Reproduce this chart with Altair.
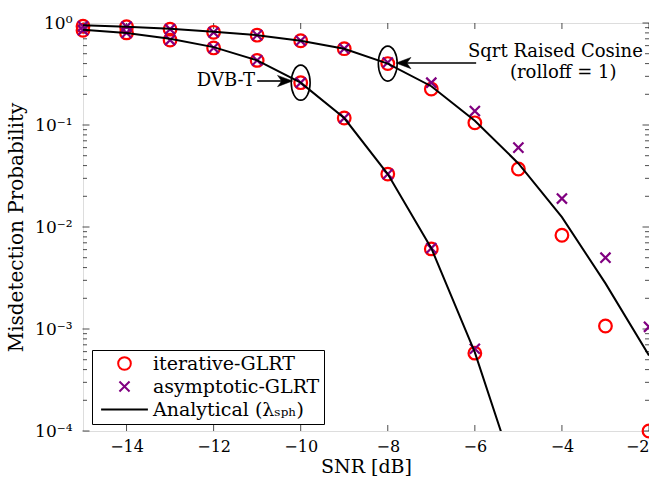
import altair as alt
import pandas as pd

# ---------------- data ----------------
SNR = [-15, -14, -13, -12, -11, -10, -9, -8, -7, -6, -5, -4, -3, -2]

# DVB-T curve
DVB_LINE_SNR = [-15, -14, -13, -12, -11, -10, -9, -8, -7, -6, -5]
DVB_ANALYTICAL = [0.86, 0.80, 0.70, 0.58, 0.43, 0.26, 0.117, 0.033, 0.0062, 0.00059, 0.00003]
DVB_MARK_SNR = [-15, -14, -13, -12, -11, -10, -9, -8, -7, -6]
DVB_ITERATIVE = [0.85, 0.80, 0.68, 0.57, 0.43, 0.26, 0.117, 0.033, 0.0061, 0.00058]
DVB_ASYMPTOTIC = [0.85, 0.80, 0.68, 0.57, 0.43, 0.26, 0.117, 0.033, 0.0062, 0.00064]

# Sqrt raised cosine curve
SRC_ANALYTICAL = [0.95, 0.92, 0.88, 0.82, 0.76, 0.67, 0.56, 0.40, 0.24, 0.11, 0.042, 0.0125, 0.0028, 0.00055]
SRC_ITERATIVE = [0.93, 0.92, 0.87, 0.81, 0.76, 0.67, 0.56, 0.40, 0.225, 0.105, 0.037, 0.0083, 0.00107, 0.0001]
SRC_ASYMPTOTIC = [0.93, 0.92, 0.87, 0.81, 0.76, 0.67, 0.56, 0.41, 0.26, 0.137, 0.060, 0.019, 0.0050, 0.00105]

SERIES = ["iterative-GLRT", "asymptotic-GLRT", "Analytical (λₛₚₕ)"]
COLORS = ["#ff0000", "#800080", "#000000"]

X_TICKS = [-14, -12, -10, -8, -6, -4, -2]
Y_TICKS = [1e-4, 1e-3, 1e-2, 1e-1, 1.0]
Y_MINOR = [k * 10.0 ** e for e in (-4, -3, -2, -1) for k in range(2, 10)]

# annotations (data coordinates)
ELLIPSES_X = [-10, -8]
ELLIPSES_Y = [0.26, 0.40]

# ---------------- tables ----------------
lines = pd.concat([
    pd.DataFrame({"snr": DVB_LINE_SNR, "p": DVB_ANALYTICAL, "curve": "DVB-T", "series": SERIES[2]}),
    pd.DataFrame({"snr": SNR, "p": SRC_ANALYTICAL, "curve": "SRC", "series": SERIES[2]}),
])
points = pd.concat([
    pd.DataFrame({"snr": DVB_MARK_SNR, "p": DVB_ITERATIVE, "series": SERIES[0]}),
    pd.DataFrame({"snr": SNR, "p": SRC_ITERATIVE, "series": SERIES[0]}),
    pd.DataFrame({"snr": DVB_MARK_SNR, "p": DVB_ASYMPTOTIC, "series": SERIES[1]}),
    pd.DataFrame({"snr": SNR, "p": SRC_ASYMPTOTIC, "series": SERIES[1]}),
])

W, H = 566, 408
FONT = "DejaVu Serif"

xs = alt.Scale(domain=[-15, -2], nice=False, zero=False)
ys = alt.Scale(type="log", domain=[1e-4, 1], nice=False)

X_PATH = "M-0.8,-0.8L0.8,0.8M-0.8,0.8L0.8,-0.8"
LINE_PATH = "M-3.7,0L3.7,0"
stroke_scale = alt.Scale(domain=SERIES, range=COLORS)
shape_scale = alt.Scale(domain=SERIES, range=["circle", X_PATH, LINE_PATH])

legend = alt.Legend(
    title=None, orient="none", legendX=9, legendY=327,
    strokeColor="black", fillColor="white", padding=4, cornerRadius=0,
    labelFont=FONT, labelFontSize=19, labelColor="black", labelOffset=19, labelLimit=400,
    symbolSize=160, symbolStrokeWidth=2, symbolOffset=19, rowPadding=3,
)

xaxis = alt.Axis(values=X_TICKS, ticks=False, domain=False, grid=False, labelFont=FONT,
                 labelFontSize=16, labelColor="black", labelPadding=7, title="SNR [dB]",
                 titleFont=FONT, titleFontSize=19, titleFontWeight="normal", titleColor="black",
                 titlePadding=3)
ylabel = ("datum.value > 0.5 ? '10⁰' : datum.value > 0.05 ? '10⁻¹' : datum.value > 0.005 ? '10⁻²'"
          " : datum.value > 0.0005 ? '10⁻³' : '10⁻⁴'")
yaxis = alt.Axis(values=Y_TICKS, ticks=False, domain=False, grid=False, labelFont=FONT,
                 labelFontSize=17, labelColor="black", labelPadding=11, labelExpr=ylabel,
                 title="Misdetection Probability", titleFont=FONT, titleFontSize=20,
                 titleFontWeight="normal", titleColor="black", titlePadding=8)

pts = alt.Chart(points).mark_point(filled=False, strokeWidth=2.2, size=160, opacity=1).encode(
    x=alt.X("snr:Q", scale=xs, axis=xaxis),
    y=alt.Y("p:Q", scale=ys, axis=yaxis),
    stroke=alt.Stroke("series:N", scale=stroke_scale, legend=legend, sort=SERIES),
    shape=alt.Shape("series:N", scale=shape_scale, legend=legend, sort=SERIES),
)

lns = alt.Chart(lines).mark_line(strokeWidth=2, clip=True).encode(
    x=alt.X("snr:Q", scale=xs),
    y=alt.Y("p:Q", scale=ys),
    stroke=alt.Stroke("series:N", scale=stroke_scale, legend=legend, sort=SERIES),
    detail="curve:N",
)

# ellipses around highlighted points
ell_df = pd.DataFrame({"snr": ELLIPSES_X, "p": ELLIPSES_Y})
ELL_PATH = "M0,-1A0.54,1,0,1,1,0,1A0.54,1,0,1,1,0,-1Z"
ells = alt.Chart(ell_df).mark_point(shape=ELL_PATH, size=1225, filled=False, stroke="black",
                                     strokeWidth=1.6, opacity=1).encode(
    x=alt.X("snr:Q", scale=xs), y=alt.Y("p:Q", scale=ys))

# arrows
arrow_df = pd.DataFrame({"x1": [-11.0, -7.7], "x2": [-10.35, -5.97], "p": [0.27, 0.405]})
shafts = alt.Chart(arrow_df).mark_rule(stroke="black", strokeWidth=1.6).encode(
    x=alt.X("x1:Q", scale=xs), x2="x2:Q", y=alt.Y("p:Q", scale=ys))
head_r = alt.Chart(pd.DataFrame({"snr": [-10.36], "p": [0.27]})).mark_point(
    shape="M1,0L-1,-0.75L-0.45,0L-1,0.75Z", size=225, filled=True, fill="black", stroke="black",
    strokeWidth=0.5, opacity=1).encode(x=alt.X("snr:Q", scale=xs), y=alt.Y("p:Q", scale=ys))
head_l = alt.Chart(pd.DataFrame({"snr": [-7.64], "p": [0.405]})).mark_point(
    shape="M-1,0L1,-0.75L0.45,0L1,0.75Z", size=225, filled=True, fill="black", stroke="black",
    strokeWidth=0.5, opacity=1).encode(x=alt.X("snr:Q", scale=xs), y=alt.Y("p:Q", scale=ys))

texts_df = pd.DataFrame({
    "snr": [-11.05, -4.15, -3.97],
    "p": [0.27, 0.52, 0.325],
    "label": ["DVB-T", "Sqrt Raised Cosine", "(rolloff = 1)"],
})
txt_r = alt.Chart(texts_df.iloc[[0]]).mark_text(font=FONT, fontSize=18, align="right",
                                                 baseline="middle", color="black").encode(
    x=alt.X("snr:Q", scale=xs), y=alt.Y("p:Q", scale=ys), text="label:N")
txt_c = alt.Chart(texts_df.iloc[[1, 2]]).mark_text(font=FONT, fontSize=18, align="center",
                                                    baseline="middle", color="black").encode(
    x=alt.X("snr:Q", scale=xs), y=alt.Y("p:Q", scale=ys), text="label:N")

# inward ticks
ymaj = pd.DataFrame({"v": Y_TICKS})
ymin = pd.DataFrame({"v": Y_MINOR})
xmaj = pd.DataFrame({"v": X_TICKS})
tick_layers = []
for xpos in (3, W - 3):
    tick_layers.append(alt.Chart(ymaj).mark_tick(orient="horizontal", size=7, thickness=1, color="black").encode(
        y=alt.Y("v:Q", scale=ys), x=alt.value(xpos)))
for xpos in (2, W - 2):
    tick_layers.append(alt.Chart(ymin).mark_tick(orient="horizontal", size=4, thickness=1, color="black").encode(
        y=alt.Y("v:Q", scale=ys), x=alt.value(xpos)))
for ypos in (3, H - 3):
    tick_layers.append(alt.Chart(xmaj).mark_tick(orient="vertical", size=6, thickness=1, color="black").encode(
        x=alt.X("v:Q", scale=xs), y=alt.value(ypos)))

chart = alt.layer(
    *tick_layers, ells, shafts, head_r, head_l, txt_r, txt_c, pts, lns
).properties(
    width=W, height=H,
    autosize=alt.AutoSizeParams(type="none"),
    padding={"left": 83, "top": 23, "right": 0, "bottom": 55},
).configure_view(
    stroke="black", strokeWidth=1.2
).configure(background="white")

chart.save("out.html", embed_options={"renderer": "svg", "actions": False})
